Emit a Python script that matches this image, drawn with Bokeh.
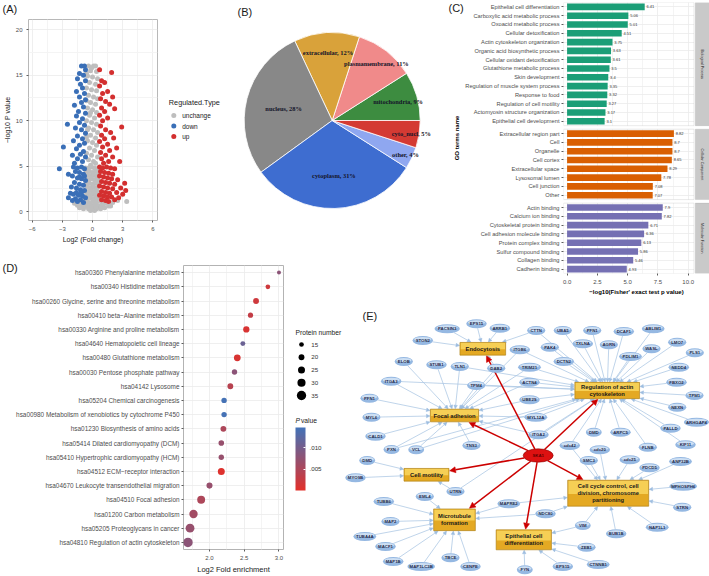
import math
from bokeh.plotting import figure
from bokeh.models import (ColumnDataSource, Range1d, FactorRange, Label,
                          BoxAnnotation, FixedTicker, LinearColorMapper, ColorBar, Arrow,
                          NormalHead, NumeralTickFormatter)
from bokeh.core.properties import value
from bokeh.embed import file_html
from bokeh.resources import INLINE

SANS = "Liberation Sans"
SERIF = "Liberation Serif"

# ======================= DATA =======================
# (A) volcano plot: (log2 fold change, -log10 P)
unchange_pts = [(-0.4, 16.0), (0.1, 16.0), (0.3, 16.0), (-0.2, 15.5), (0.4, 15.4), (-0.5, 14.9), (0.0, 14.8),
                (0.5, 14.6), (-0.3, 14.2), (0.3, 14.0), (-0.6, 13.6), (-0.1, 13.4), (0.4, 13.3), (-0.4, 12.8),
                (0.1, 12.6), (0.5, 12.4), (-0.2, 12.0), (0.3, 11.8), (-0.5, 11.4), (0.0, 11.2), (0.4, 10.9),
                (-0.3, 10.6), (0.2, 10.3), (-0.6, 10.0), (-0.1, 9.8), (0.4, 9.6), (-0.4, 9.2), (0.1, 9.0),
                (0.5, 8.7), (-0.2, 8.4), (0.3, 8.1), (-0.5, 7.8), (0.0, 7.6), (0.4, 7.3), (-0.3, 7.0),
                (0.2, 6.7), (-0.6, 6.4), (-0.1, 6.2), (0.5, 6.0), (-0.4, 5.7), (0.1, 5.5), (0.3, 5.3),
                (-0.2, 5.1), (-0.6, 15.2), (-0.1, 15.8), (-0.6, 12.2), (-0.5, 9.0), (-0.6, 8.2), (-0.2, 10.9),
                (-0.7, 4.8), (-0.4, 4.8), (-0.1, 4.9), (0.2, 4.8), (0.5, 4.7), (-0.6, 4.4), (-0.3, 4.4),
                (0.0, 4.3), (0.3, 4.4), (0.6, 4.3), (-0.5, 4.0), (-0.2, 3.9), (0.1, 4.0), (0.4, 3.9),
                (-0.7, 3.6), (-0.4, 3.5), (-0.1, 3.6), (0.2, 3.5), (0.5, 3.5), (-0.6, 3.1), (-0.3, 3.1),
                (0.0, 3.0), (0.3, 3.1), (0.6, 3.0), (-0.5, 2.7), (-0.2, 2.6), (0.1, 2.7), (0.4, 2.6),
                (-0.7, 2.2), (-0.4, 2.2), (-0.1, 2.3), (0.2, 2.2), (0.5, 2.2), (-0.6, 1.8), (-0.3, 1.8),
                (0.0, 1.9), (0.3, 1.8), (0.6, 1.8), (-0.9, 1.4), (-0.5, 1.4), (-0.2, 1.5), (0.1, 1.4),
                (0.4, 1.4), (0.8, 1.3), (-1.2, 1.0), (-0.8, 1.0), (-0.4, 1.0), (0.0, 1.1), (0.4, 1.0),
                (0.9, 1.0), (1.3, 0.9), (-1.5, 0.7), (-1.0, 0.7), (-0.6, 0.6), (-0.2, 0.7), (0.2, 0.7),
                (0.6, 0.6), (1.0, 0.7), (1.6, 0.6), (-0.9, 0.3), (-0.4, 0.3), (0.0, 0.3), (0.4, 0.3),
                (0.8, 0.3), (-0.2, 0.1), (0.2, 0.1), (2.0, 1.0), (2.5, 1.2), (3.4, 1.1), (-1.8, 0.9),
                (1.8, 0.6), (-1.3, 0.4), (1.2, 0.4), (-0.1, 0.5), (0.3, 0.5)]
down_pts = [(-1.1, 16.0), (-0.8, 16.0), (-0.7, 15.6), (-1.3, 15.2), (-0.9, 15.0), (-1.5, 14.6), (-0.7, 14.4),
            (-1.2, 14.0), (-1.0, 13.6), (-1.6, 13.2), (-0.8, 13.0), (-1.3, 12.6), (-0.7, 12.3), (-1.1, 12.0),
            (-1.8, 11.7), (-0.9, 11.5), (-1.4, 11.0), (-0.7, 10.8), (-1.6, 10.5), (-1.0, 10.2), (-2.5, 9.6),
            (-1.3, 9.8), (-0.8, 9.5), (-1.7, 9.2), (-1.1, 9.0), (-0.7, 8.6), (-1.5, 8.3), (-1.0, 8.0),
            (-1.9, 7.8), (-0.8, 7.5), (-1.3, 7.3), (-2.9, 7.1), (-1.6, 6.9), (-0.9, 6.6), (-1.2, 6.3),
            (-2.0, 6.2), (-0.7, 6.0), (-1.5, 5.8), (-1.0, 5.5), (-1.8, 5.3), (-3.3, 4.7), (-2.4, 4.1),
            (-1.9, 4.9), (-1.5, 4.8), (-1.1, 4.9), (-0.8, 4.7), (-1.7, 4.4), (-1.3, 4.3), (-0.9, 4.1),
            (-2.0, 3.9), (-1.5, 3.7), (-1.1, 3.6), (-0.7, 3.4), (-1.8, 3.2), (-1.3, 3.0), (-0.9, 2.9),
            (-2.1, 2.7), (-1.6, 2.6), (-1.2, 2.4), (-0.8, 2.3), (-2.2, 2.0), (-1.9, 1.9), (-1.4, 1.8),
            (-1.0, 1.7), (-2.4, 1.5), (-1.7, 1.4), (-1.2, 1.3), (-0.7, 1.5), (-2.0, 1.2), (-1.5, 1.1),
            (-0.9, 1.0), (-1.3, 3.8), (-0.8, 3.9), (-1.6, 2.1), (-1.1, 2.1)]
up_pts = [(0.7, 15.6), (1.9, 15.3), (0.9, 14.4), (1.2, 14.2), (0.7, 13.8), (1.5, 13.2), (1.0, 13.0),
          (2.0, 12.6), (0.8, 12.4), (1.3, 12.1), (1.7, 11.8), (0.9, 11.4), (1.2, 11.0), (2.2, 11.3),
          (0.7, 10.6), (1.5, 10.3), (1.0, 10.0), (2.9, 9.3), (0.8, 9.4), (1.3, 9.0), (1.8, 8.7),
          (0.9, 8.4), (1.2, 8.0), (2.1, 8.1), (0.7, 7.7), (1.5, 7.4), (1.0, 7.1), (2.4, 7.0),
          (1.7, 6.7), (0.8, 6.5), (1.3, 6.2), (2.0, 6.0), (0.9, 5.8), (1.6, 5.5), (2.7, 5.5),
          (1.1, 5.3), (0.7, 4.9), (1.0, 4.8), (1.4, 4.9), (1.8, 4.8), (2.2, 4.7), (0.8, 4.4),
          (1.2, 4.3), (1.6, 4.2), (2.0, 4.1), (0.7, 3.9), (1.1, 3.8), (1.5, 3.7), (1.9, 3.6),
          (2.5, 3.5), (0.9, 3.3), (1.3, 3.2), (1.7, 3.1), (2.2, 3.0), (3.2, 3.1), (0.7, 2.8),
          (1.1, 2.7), (1.5, 2.6), (2.0, 2.5), (2.8, 2.6), (0.9, 2.2), (1.3, 2.1), (1.7, 2.0),
          (2.4, 2.1), (3.3, 2.3), (0.7, 1.8), (1.1, 1.7), (1.5, 1.6), (1.9, 1.6), (2.6, 1.5),
          (3.0, 1.9), (0.9, 1.3), (1.3, 1.2), (2.2, 1.3), (1.6, 1.1)]
reg_types = ["unchange", "down", "up"]
reg_colors = ["#bebebe", "#3a6fb7", "#d32f2f"]

# (B) subcellular localisation pie
pie_names = ["mitochondria", "plasmamembrane", "extracellular", "nucleus", "cytoplasm", "other", "cyto_nucl"]
pie_pct = [9, 11, 12, 28, 31, 4, 5]
pie_colors = ["#3d8c40", "#f08a8a", "#d9a23a", "#888888", "#3e6dd0", "#8fa7f0", "#d43a33"]
pie_label_r = [0.78, 0.82, 0.77, 0.57, 0.62, 0.92, 0.91]

# (C) GO enrichment
bp_terms = ["Epithelial cell differentiation", "Carboxylic acid metabolic process", "Oxoacid metabolic process",
            "Cellular detoxification", "Actin cytoskeleton organization", "Organic acid biosynthetic process",
            "Cellular oxidant detoxification", "Glutathione metabolic process", "Skin development",
            "Regulation of muscle system process", "Response to food", "Regulation of cell motility",
            "Actomyosin structure organization", "Epithelial cell development"]
bp_vals = [6.41, 5.06, 5.01, 4.51, 3.75, 3.63, 3.61, 3.5, 3.4, 3.35, 3.32, 3.27, 3.17, 3.1]
cc_terms = ["Extracellular region part", "Cell", "Organelle", "Cell cortex", "Extracellular space",
            "Lysosomal lumen", "Cell junction", "Other"]
cc_vals = [8.82, 8.7, 8.7, 8.65, 8.29, 7.78, 7.08, 7.07]
mf_terms = ["Actin binding", "Calcium ion binding", "Cytoskeletal protein binding",
            "Cell adhesion molecule binding", "Protein complex binding", "Sulfur compound binding",
            "Collagen binding", "Cadherin binding"]
mf_vals = [7.9, 7.82, 6.71, 6.36, 6.13, 5.86, 5.46, 4.93]
c_ticks = [0, 2.5, 5, 7.5, 10]

# (D) KEGG enrichment
kegg_terms = ["hsa00360 Phenylalanine metabolism", "hsa00340 Histidine metabolism",
              "hsa00260 Glycine, serine and threonine metabolism", "hsa00410 beta\u2212Alanine metabolism",
              "hsa00330 Arginine and proline metabolism", "hsa04640 Hematopoietic cell lineage",
              "hsa00480 Glutathione metabolism", "hsa00030 Pentose phosphate pathway", "hsa04142 Lysosome",
              "hsa05204 Chemical carcinogenesis", "hsa00980 Metabolism of xenobiotics by cytochrome P450",
              "hsa01230 Biosynthesis of amino acids", "hsa05414 Dilated cardiomyopathy (DCM)",
              "hsa05410 Hypertrophic cardiomyopathy (HCM)", "hsa04512 ECM\u2212receptor interaction",
              "hsa04670 Leukocyte transendothelial migration", "hsa04510 Focal adhesion",
              "hsa01200 Carbon metabolism", "hsa05205 Proteoglycans in cancer",
              "hsa04810 Regulation of actin cytoskeleton"]
kegg_fold = [3.0, 2.84, 2.67, 2.59, 2.53, 2.48, 2.40, 2.36, 2.30, 2.21, 2.21, 2.20, 2.17, 2.17, 2.17,
             2.0, 1.88, 1.77, 1.72, 1.69]
kegg_count = [12, 15, 20, 17, 22, 16, 24, 18, 20, 18, 18, 20, 19, 18, 25, 21, 29, 31, 33, 36]
kegg_p = [0.008, 0.002, 0.002, 0.003, 0.001, 0.011, 0.001, 0.008, 0.004, 0.0145, 0.0145, 0.005, 0.007,
          0.007, 0.0005, 0.007, 0.005, 0.006, 0.007, 0.008]
size_legend = [15, 20, 25, 30, 35]
p_ticks = [0.005, 0.01]
p_tick_labels = [".005", ".010"]

# (E) network
gene_names = ["PACSIN3", "EPS15", "ARRB1", "CTTN", "UBA5", "PFN1", "DCAF1", "ABLIM1", "STON2", "ITGB6",
              "PAK4", "TXLNA", "AGRN", "LMO7", "WASL", "PLS1", "PDLIM1", "DCTN2", "ELOB", "STUB1",
              "TLN1", "DAB2", "TRIM21", "NEDD4", "ITGA3", "TPM4", "ACTN4", "FBXO2", "TPM1", "PFN1",
              "UBE2S", "NEXN", "MYL6", "MYL12A", "ARHGAP4", "PALLD", "DMD", "ARPC5", "ITGA2", "CALD1",
              "PXN", "VCL", "TNS3", "cdc42", "cdc20", "FLNB", "KIF11", "DMD", "SMC3", "cdc25",
              "ANP32B", "PDCD5", "MYO9B", "UTRN", "MPHOSPH6", "EML4", "TUBB6", "MAPRE2", "STRN", "NDC80",
              "MAP2", "VIM", "NAP1L1", "BUB1B", "TUBA4A", "MACF1", "ZEB1", "MAP1B", "MAP1LC3B", "TBCE",
              "CENPE", "EPS15", "CTNNB1", "FYN"]
gene_x = [446.7, 476, 499.3, 535.7, 562.3, 591.7, 623.3, 652.7, 422.3, 519.3,
          549.3, 582.3, 608.3, 676.7, 651, 694.3, 630, 563.3, 403.3, 436,
          459.3, 495.7, 529, 678.3, 390.7, 475.7, 529, 676, 694, 369,
          529, 676.7, 371, 535.3, 696, 670, 593.3, 620, 538, 375,
          391, 415.7, 471, 569.3, 599.3, 647.3, 685, 366.7, 588.3, 629.3,
          680, 649, 355, 455, 682.7, 424.3, 383.3, 508.3, 681.7, 545,
          390, 582.3, 656.7, 615.7, 364.3, 385, 586, 392.7, 420.7, 450,
          470, 562.3, 597.7, 524.3]
gene_y = [328.3, 323.3, 327.7, 330, 330, 330, 331, 328.3, 340, 349.3,
          346.7, 343.3, 344.3, 341.7, 348.3, 352.3, 356, 361, 361, 364.3,
          366, 367.7, 366.7, 366.7, 380.7, 385, 381.7, 381.7, 395, 397.7,
          399.3, 406.7, 416.7, 416.7, 421.7, 427.7, 431.7, 431.7, 434.3, 435.7,
          449, 449.3, 445, 445, 449.3, 446.7, 444.3, 460, 460, 459.3,
          461, 467.3, 477.3, 491, 485.7, 496, 501, 503.3, 506.7, 513.3,
          521, 525, 526.7, 533.3, 536, 546, 546.7, 561, 566, 557.3,
          566, 566, 564, 569.3]
box_names = ["Endocytosis", "Regulation of actin\ncytoskeleton", "Focal adhesion", "Cell motility",
             "Microtubule\nformation", "Cell cycle control, cell\ndivision, chromosome\npartitioning",
             "Epithelial cell\ndifferentiation"]
box_x = [482.3, 606.7, 454, 426, 454, 607.7, 523.3]
box_y = [348.3, 390, 415, 474.3, 519.3, 492.7, 539.3]
box_w = [45.7, 64.7, 48.3, 45, 41.7, 81, 55.3]
box_h = [12.7, 16.3, 12.7, 12.7, 21.7, 26, 20]
hub_name = "SKA1"
hub_x, hub_y = 537.7, 455
box_genes = [
    [0, 1, 2, 8, 3, 21],
    [3, 4, 5, 6, 7, 9, 10, 11, 12, 13, 14, 15, 16, 17, 22, 23, 26, 27, 28, 30, 31, 33, 34, 35, 36, 37,
     38, 43, 45, 46, 20, 24, 25, 40, 41, 53],
    [18, 19, 20, 24, 25, 29, 32, 39, 40, 41, 42, 9, 26, 30, 33, 38, 22, 21],
    [47, 52, 53],
    [55, 56, 60, 64, 65, 67, 68, 69, 70, 57, 59],
    [43, 44, 48, 49, 51, 50, 54, 58, 62, 63, 61, 57, 59],
    [61, 66, 72, 71, 73],
]

# panel tags
panel_tags = ["(A)", "(B)", "(C)", "(D)", "(E)"]
tag_x = [2, 237, 448, 2, 362]
tag_y = [2, 5, 1, 261, 309]


# ======================= HELPERS =======================
def fig(left, top, width, height, **kw):
    p = figure(width=width, height=height, output_backend="svg", toolbar_location=None, title=None, **kw)
    p.name = f"{left},{top}"
    p.border_fill_color = None
    return p


def pixel_fig(left, top, width, height):
    """Transparent figure whose data units are page pixels (y downwards)."""
    p = fig(left, top, width, height, x_range=Range1d(left, left + width),
            y_range=Range1d(top + height, top), x_axis_location=None, y_axis_location=None, min_border=0)
    blank(p)
    return p


def blank(p):
    p.grid.visible = False
    p.outline_line_color = None
    p.background_fill_color = None


def gg_axes(p, tick_size="6px", label_size="7px"):
    p.background_fill_color = "white"
    for ax in p.axis:
        ax.axis_line_color = None
        ax.major_tick_line_color = "#333333"
        ax.major_tick_line_width = 0.8
        ax.major_tick_out = 2
        ax.major_tick_in = 0
        ax.minor_tick_line_color = None
        ax.major_label_text_font = SANS
        ax.major_label_text_font_size = tick_size
        ax.major_label_text_color = "#4d4d4d"
        ax.major_label_standoff = 2
        ax.axis_label_text_font = SANS
        ax.axis_label_text_font_size = label_size
        ax.axis_label_text_font_style = "normal"
        ax.axis_label_text_color = "#1a1a1a"
        ax.axis_label_standoff = 2
    for g in p.grid:
        g.grid_line_color = "#ebebeb"
        g.grid_line_width = 0.8


# ======================= (A) =======================
pA = fig(0, 0, 235, 262, x_range=Range1d(-6.372, 6.465), y_range=Range1d(-0.99, 21.13),
         min_border_left=19, min_border_right=78, min_border_top=19, min_border_bottom=42)
pA.xaxis.ticker = FixedTicker(ticks=[-6, -3, 0, 3, 6], minor_ticks=[-4.5, -1.5, 1.5, 4.5])
pA.yaxis.ticker = FixedTicker(ticks=[0, 5, 10, 15, 20], minor_ticks=[2.5, 7.5, 12.5, 17.5])
gg_axes(pA, "6px", "7px")
pA.xgrid.minor_grid_line_color = "#f4f4f4"
pA.ygrid.minor_grid_line_color = "#f4f4f4"
pA.outline_line_color = "#b8b8b8"
pA.xaxis.axis_label = "Log2 (Fold change)"
pA.yaxis.axis_label = "\u2212log10 P value"
for pts, col in zip([unchange_pts, down_pts, up_pts], reg_colors):
    pA.scatter([q[0] for q in pts], [q[1] for q in pts], size=5, fill_color=col, line_color=None)

# legend of (A), page pixels
pAL = pixel_fig(160, 90, 75, 60)
LA_X, LA_DOT, LA_LAB, LA_Y0, LA_DY = 168.3, 173.3, 181.7, 115.0, 10.5
srcAL = ColumnDataSource(dict(x=[LA_DOT] * 3, lx=[LA_LAB] * 3, y=[LA_Y0 + LA_DY * i for i in range(3)],
                              c=reg_colors, t=reg_types))
pAL.scatter(x="x", y="y", size=5, fill_color="c", line_color=None, source=srcAL)
pAL.text(x="lx", y="y", text="t", source=srcAL, text_font=value(SANS), text_font_size="6.5px",
         text_color="#1a1a1a", text_baseline="middle", text_align="left")
pAL.text(x=[LA_X], y=[102.3], text=["Regulated.Type"], text_font=value(SANS), text_font_size="7.3px",
         text_color="#1a1a1a", text_baseline="middle", text_align="left")

# ======================= (B) =======================
PX = 88.0
CXB, CYB = 96.7, 120.0
B_W, B_H = 210, 262
pB = fig(235, 0, B_W, B_H, x_range=Range1d(-CXB / PX, (B_W - CXB) / PX),
         y_range=Range1d(-(B_H - CYB) / PX, CYB / PX),
         x_axis_location=None, y_axis_location=None, min_border=0)
blank(pB)
starts, ends, lx, ly, ltxt = [], [], [], [], []
acc = 0.0
for name, pct, rr in zip(pie_names, pie_pct, pie_label_r):
    a0 = 2 * math.pi * acc / 100.0
    acc += pct
    a1 = 2 * math.pi * acc / 100.0
    starts.append(a0)
    ends.append(a1)
    mid = (a0 + a1) / 2
    lx.append(rr * math.cos(mid))
    ly.append(rr * math.sin(mid))
    ltxt.append(f"{name}, {pct}%")
srcB = ColumnDataSource(dict(s=starts, e=ends, c=pie_colors, lx=lx, ly=ly, t=ltxt))
pB.wedge(x=0, y=0, radius=1.0, start_angle="s", end_angle="e", fill_color="c",
         line_color="white", line_width=0.8, source=srcB)
pB.text(x="lx", y="ly", text="t", source=srcB, text_font=value(SERIF), text_font_style="bold",
        text_font_size="6.4px", text_color="#141428", text_align="center", text_baseline="middle")

# ======================= (C) =======================
GP = 0.4
c_groups = [(mf_terms, mf_vals, "#7570b3", "Molecular Function"),
            (cc_terms, cc_vals, "#d95f02", "Cellular Component"),
            (bp_terms, bp_vals, "#1b9e77", "Biological Process")]
c_y, c_v, c_col, c_txt, c_tx, c_lab = [], [], [], [], [], []
c_spans = []
off = 0.0
for terms, vals, col, name in c_groups:
    for i, (t, v) in enumerate(zip(reversed(terms), reversed(vals))):
        c_y.append(off + i + 0.5)
        c_v.append(v)
        c_col.append(col)
        c_txt.append(f"{v:g}")
        c_tx.append(v + 0.15)
        c_lab.append(t)
    c_spans.append((off, off + len(terms), name))
    off += len(terms) + GP
C_TOP = off - GP
X_PANEL_R, X_STRIP_L, X_END = 10.48, 10.59, 11.76
pC = fig(440, 0, 269, 300, x_range=Range1d(-0.296, X_END), y_range=Range1d(0, C_TOP),
         min_border_left=123, min_border_right=0, min_border_top=2, min_border_bottom=27)
gg_axes(pC, "5.7px", "6px")
pC.outline_line_color = None
pC.xaxis.ticker = FixedTicker(ticks=c_ticks, minor_ticks=[1.25, 3.75, 6.25, 8.75])
pC.xaxis.formatter = NumeralTickFormatter(format="0.0")
pC.xaxis.major_label_text_font_size = "6px"
pC.yaxis.ticker = FixedTicker(ticks=c_y)
pC.yaxis.major_label_overrides = dict(zip(c_y, c_lab))
pC.xgrid.minor_grid_line_color = "#f4f4f4"
pC.xaxis.axis_label = "\u2212log10(Fisher' exact test p value)"
pC.yaxis.axis_label = "GO terms name"
for ax in (pC.xaxis[0], pC.yaxis[0]):
    ax.axis_label_text_font_style = "bold"
    ax.axis_label_text_color = "black"
srcC = ColumnDataSource(dict(y=c_y, v=c_v, c=c_col, t=c_txt, tx=c_tx))
pC.hbar(y="y", left=0, right="v", height=0.75, fill_color="c", line_color=None, source=srcC)
pC.text(x="tx", y="y", text="t", source=srcC, text_font=value(SANS), text_font_size="4px",
        text_color="#333333", text_baseline="middle", text_align="left")
pC.add_layout(BoxAnnotation(left=X_PANEL_R, fill_color="white", fill_alpha=1, line_color=None))
for b0, b1, name in c_spans[:-1]:
    pC.add_layout(BoxAnnotation(bottom=b1, top=b1 + GP, fill_color="white", fill_alpha=1, line_color=None))
for b0, b1, name in c_spans:
    pC.add_layout(BoxAnnotation(right=X_PANEL_R, bottom=b0, top=b1, fill_alpha=0,
                                line_color="#a6a6a6", line_width=0.8))
    pC.add_layout(BoxAnnotation(left=X_STRIP_L, bottom=b0, top=b1, fill_color="#c9c9c9", fill_alpha=1,
                                line_color="#8c8c8c", line_width=0.6))
    pC.add_layout(Label(x=(X_STRIP_L + X_END) / 2, y=(b0 + b1) / 2, text=name, angle=-math.pi / 2,
                        text_align="center", text_baseline="middle", text_font=SANS,
                        text_font_size="3.6px", text_color="#1a1a1a"))

# ======================= (D) =======================
def dot_size(n):
    return 1.25 + 0.23 * n


pal = []
lo, hi = (227, 48, 42), (66, 115, 184)
for i in range(256):
    f = i / 255.0
    pal.append("#%02x%02x%02x" % tuple(int(round(lo[k] + (hi[k] - lo[k]) * f)) for k in range(3)))
mapper = LinearColorMapper(palette=pal, low=0.0, high=0.0148)

pD = fig(0, 262, 290, 314, x_range=Range1d(1.626, 3.065),
         y_range=FactorRange(factors=list(reversed(kegg_terms)), range_padding=0),
         min_border_left=183, min_border_right=7, min_border_top=3, min_border_bottom=26)
gg_axes(pD, "6px", "7.5px")
pD.outline_line_color = "#b3b3b3"
pD.yaxis.major_label_text_font_size = "6.4px"
pD.xaxis.ticker = FixedTicker(ticks=[2.0, 2.5, 3.0], minor_ticks=[1.75, 2.25, 2.75])
pD.xaxis.formatter = NumeralTickFormatter(format="0.0")
pD.xgrid.minor_grid_line_color = "#f4f4f4"
pD.xaxis.axis_label = "Log2 Fold enrichment"
srcD = ColumnDataSource(dict(term=kegg_terms, fold=kegg_fold, p=kegg_p,
                             sz=[dot_size(n) for n in kegg_count]))
pD.scatter(x="fold", y="term", size="sz", source=srcD, line_color=None,
           fill_color={"field": "p", "transform": mapper})

# legend column of (D), page pixels
pDL = pixel_fig(283, 262, 67, 314)
LEG_X, DOT_X, LAB_X = 295, 301, 310.7
DOT_Y0, DOT_DY = 344, 12.75
srcDL = ColumnDataSource(dict(x=[DOT_X] * len(size_legend),
                              y=[DOT_Y0 + DOT_DY * i for i in range(len(size_legend))],
                              lx=[LAB_X] * len(size_legend),
                              sz=[dot_size(n) for n in size_legend],
                              t=[str(n) for n in size_legend]))
pDL.scatter(x="x", y="y", size="sz", source=srcDL, fill_color="black", line_color=None)
pDL.text(x="lx", y="y", text="t", source=srcDL, text_font=value(SANS), text_font_size="6.2px",
         text_color="#333333", text_baseline="middle", text_align="left")
pDL.text(x=[LEG_X], y=[332], text=["Protein number"], text_font=value(SANS), text_font_size="6.7px",
         text_color="#1a1a1a", text_baseline="middle", text_align="left")
pDL.text(x=[LEG_X], y=[420], text=["P"], text_font=value(SANS), text_font_size="6.7px",
         text_font_style="italic", text_color="#1a1a1a", text_baseline="middle", text_align="left")
pDL.text(x=[LEG_X + 5.4], y=[420], text=["value"], text_font=value(SANS), text_font_size="6.7px",
         text_color="#1a1a1a", text_baseline="middle", text_align="left")
cb = ColorBar(color_mapper=mapper, location=(LEG_X - 283, 576 - 490), width=10, height=63,
              padding=0, margin=0, ticker=FixedTicker(ticks=p_ticks),
              major_label_overrides=dict(zip(p_ticks, p_tick_labels)),
              major_label_text_font=SANS, major_label_text_font_size="6.2px",
              major_label_text_color="#333333", label_standoff=4,
              major_tick_line_color="white", major_tick_in=2, major_tick_out=0,
              minor_tick_line_color=None, bar_line_color=None, border_line_color=None,
              background_fill_alpha=0)
pDL.add_layout(cb)

# ======================= (E) =======================
pE = pixel_fig(343, 300, 366, 276)
gene_w = [9 + 2.3 * len(n) for n in gene_names]
gene_h = [9.0] * len(gene_names)


def box_edge(cx, cy, w, h, fx, fy, pad=0.4):
    dx, dy = fx - cx, fy - cy
    tx = (w / 2 + pad) / abs(dx) if dx else float("inf")
    ty = (h / 2 + pad) / abs(dy) if dy else float("inf")
    t = min(tx, ty)
    return cx + dx * t, cy + dy * t


def ell_edge(cx, cy, a, b, fx, fy):
    dx, dy = fx - cx, fy - cy
    t = 1.0 / math.sqrt((dx / a) ** 2 + (dy / b) ** 2)
    return cx + dx * t, cy + dy * t


ex0, ey0, ex1, ey1 = [], [], [], []
for bi, genes in enumerate(box_genes):
    for gi in genes:
        gx, gy = gene_x[gi], gene_y[gi]
        sx, sy = ell_edge(gx, gy, gene_w[gi] / 2, gene_h[gi] / 2, box_x[bi], box_y[bi])
        tx, ty = box_edge(box_x[bi], box_y[bi], box_w[bi], box_h[bi], gx, gy)
        ex0.append(sx); ey0.append(sy); ex1.append(tx); ey1.append(ty)
srcEdge = ColumnDataSource(dict(x0=ex0, y0=ey0, x1=ex1, y1=ey1))
pE.add_layout(Arrow(end=NormalHead(size=3.5, fill_color="#9dbde0", line_color="#9dbde0", line_width=0.5),
                    x_start="x0", y_start="y0", x_end="x1", y_end="y1", source=srcEdge,
                    line_color="#a9c6e3", line_width=0.75, level="underlay"))
rx0, ry0, rx1, ry1 = [], [], [], []
for bi in range(len(box_names)):
    sx, sy = ell_edge(hub_x, hub_y, 15, 6.6, box_x[bi], box_y[bi])
    tx, ty = box_edge(box_x[bi], box_y[bi], box_w[bi], box_h[bi], hub_x, hub_y, pad=0.6)
    rx0.append(sx); ry0.append(sy); rx1.append(tx); ry1.append(ty)
srcRed = ColumnDataSource(dict(x0=rx0, y0=ry0, x1=rx1, y1=ry1))
pE.add_layout(Arrow(end=NormalHead(size=6, fill_color="#cc0000", line_color="#cc0000", line_width=0.5),
                    x_start="x0", y_start="y0", x_end="x1", y_end="y1", source=srcRed,
                    line_color="#cc0000", line_width=1.5, level="underlay"))

srcG = ColumnDataSource(dict(x=gene_x, y=gene_y, w=gene_w, h=gene_h, n=gene_names,
                             hy=[y - 1.3 for y in gene_y], hw=[w * 0.84 for w in gene_w],
                             hh=[h * 0.5 for h in gene_h]))
pE.ellipse(x="x", y="y", width="w", height="h", fill_color="#95b8e2", line_color=None, source=srcG)
pE.ellipse(x="x", y="hy", width="hw", height="hh", fill_color="#d3e3f5", fill_alpha=0.9,
           line_color=None, source=srcG)
pE.text(x="x", y="y", text="n", source=srcG, text_font=value(SANS), text_font_style="bold",
        text_font_size="4.3px", text_color="#1f2b4d", text_align="center", text_baseline="middle")

srcBox = ColumnDataSource(dict(x=box_x, y=box_y, w=box_w, h=box_h, n=box_names,
                               hy=[y - h * 0.22 for y, h in zip(box_y, box_h)],
                               hw=[w - 1.2 for w in box_w], hh=[h * 0.5 for h in box_h]))
pE.rect(x="x", y="y", width="w", height="h", fill_color="#e4a923", line_color=None, source=srcBox)
pE.rect(x="x", y="hy", width="hw", height="hh", fill_color="#f6cf55", line_color=None, source=srcBox)
pE.rect(x="x", y="y", width="w", height="h", fill_alpha=0, line_color="#a87a10", line_width=0.6,
        source=srcBox)
pE.text(x="x", y="y", text="n", source=srcBox, text_font=value(SANS), text_font_style="bold",
        text_font_size="5.8px", text_color="#1a1a1a", text_align="center", text_baseline="middle",
        text_line_height=1.15)
pE.ellipse(x=[hub_x], y=[hub_y], width=30, height=13.3, fill_color="#dd1111", line_color="#8b0000",
           line_width=0.6)
pE.text(x=[hub_x], y=[hub_y], text=[hub_name], text_font=value(SANS), text_font_style="bold",
        text_font_size="4.3px", text_color="#5c0000", text_align="center", text_baseline="middle")

# ======================= panel tags (transparent overlay, page pixels) =======================
pT = pixel_fig(0, 0, 709, 576)
pT.text(x=tag_x, y=tag_y, text=panel_tags, text_font=value(SANS), text_font_size="11px",
        text_color="#1a1a1a", text_baseline="top", text_align="left")

# ======================= PAGE =======================
TEMPLATE = """
{% block contents %}
{% for doc in docs %}
{{ embed(doc) if doc.elementid }}
{% for root in doc.roots %}
{% set xy = root.name.split(',') %}
<div style="position:absolute; left:{{ xy[0] }}px; top:{{ xy[1] }}px;">{{ embed(root) }}</div>
{% endfor %}
{% endfor %}
{% endblock %}
"""

p = [pA, pAL, pB, pC, pD, pDL, pE, pT]
open("out.html", "w").write(file_html(p, INLINE, template=TEMPLATE))
